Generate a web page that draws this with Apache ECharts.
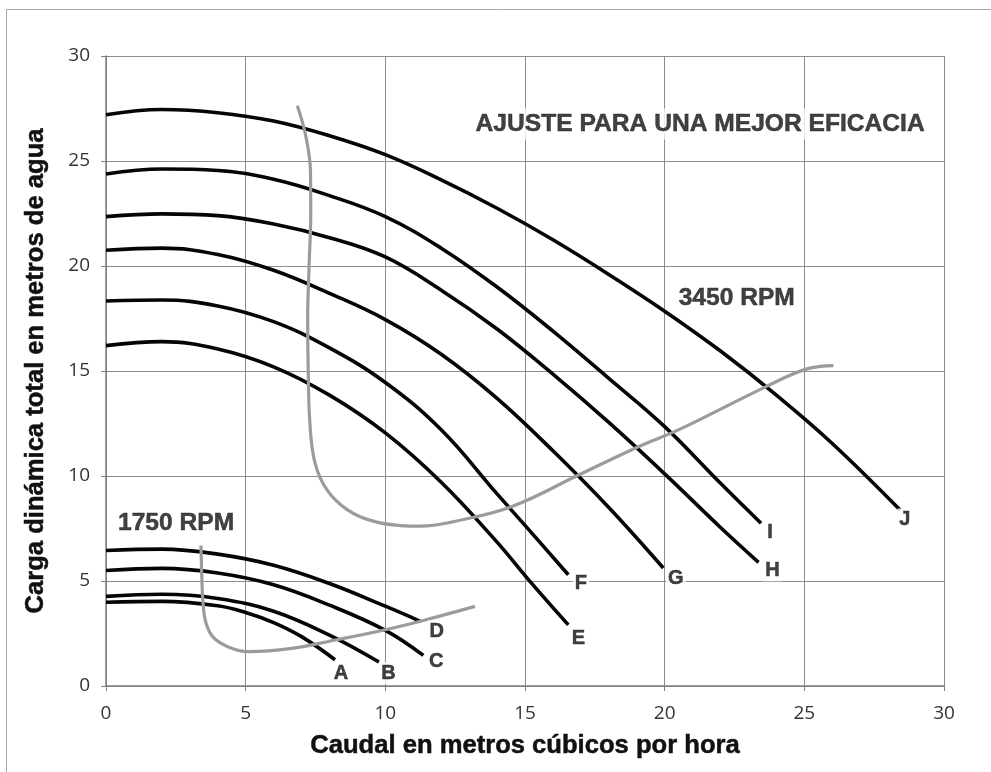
<!DOCTYPE html>
<html>
<head>
<meta charset="utf-8">
<script src="https://cdn.jsdelivr.net/npm/echarts@6/dist/echarts.min.js"></script>
<style>
html,body{margin:0;padding:0;background:#fff;}
#chart{width:991px;height:772px;}
</style>
</head>
<body>
<div id="chart"></div>
<script>
// ---- data (flow m3/h, head m) ----
const xTickValues = [0, 5, 10, 15, 20, 25, 30];
const yTickValues = [0, 5, 10, 15, 20, 25, 30];

// 3450 RPM curves
const curveJ = [[0,27.2],[2,27.45],[4,27.3],[6,26.9],[8,26.2],[10,25.3],[12,24.1],[14,22.75],[16,21.25],[18,19.6],[20,17.85],[22,15.95],[24,13.85],[26,11.55],[28.43,8.38]];
const curveI = [[0,24.38],[2,24.62],[4,24.55],[6,24.13],[8,23.35],[10,22.35],[12,20.85],[14,19.0],[16,16.9],[18,14.65],[20,12.35],[22,9.65],[23.45,7.75]];
const curveH = [[0,22.35],[2,22.48],[4,22.4],[6,22.0],[8,21.35],[10,20.43],[12,18.85],[14,17.0],[16,14.85],[18,12.55],[20,10.1],[22,7.55],[23.36,5.89]];
const curveG = [[0,20.75],[2,20.85],[4,20.55],[6,19.8],[8,18.7],[10,17.45],[12,15.8],[14,13.7],[16,11.2],[18,8.5],[19.95,5.62]];
const curveF = [[0,18.33],[2,18.38],[4,18.1],[6,17.35],[8,16.1],[10,14.45],[12,12.2],[14,9.15],[15,7.65],[16.55,5.3]];
const curveE = [[0,16.21],[2,16.4],[4,16.05],[6,15.2],[8,13.85],[10,12.05],[12,9.7],[14,6.85],[15.1,5.1],[16.55,2.91]];

// 1750 RPM curves
const curveD = [[0,6.45],[2,6.52],[4,6.28],[6,5.75],[8,4.88],[10,3.8],[11.27,3.07]];
const curveC = [[0,5.5],[2,5.6],[4,5.38],[6,4.82],[8,3.85],[10,2.65],[11.36,1.46]];
const curveB = [[0,4.27],[2,4.37],[4,4.17],[6,3.56],[8,2.42],[9.77,1.14]];
const curveA = [[0,3.99],[2,4.03],[4,3.82],[5,3.5],[6,3.02],[7,2.35],[8.2,1.25]];

// best-efficiency boundaries (grey)
const effHigh = [[6.85,27.63],[7.15,26.2],[7.32,24.5],[7.33,22.5],[7.27,20],[7.22,17.5],[7.24,15],[7.3,12.5],[7.48,10.64],[7.9,9.36],[8.62,8.41],[9.57,7.85],[10.53,7.64],[11.24,7.61],[12.8,7.93],[14.58,8.57],[16.97,10.08],[19.0,11.36],[20.55,12.23],[23.65,14.27],[25.09,15.1],[26.04,15.26]];
const effLow = [[3.4,6.69],[3.43,5.2],[3.47,4.0],[3.58,3.0],[3.85,2.3],[4.4,1.85],[5.1,1.64],[6.59,1.78],[8.26,2.2],[10,2.68],[11.36,3.12],[13.21,3.79]];

// curve letters [x, y, text]
const curveLabels = [[28.6,7.93,'J'],[23.77,7.3,'I'],[23.86,5.51,'H'],[20.4,5.1,'G'],[17.0,4.9,'F'],[16.91,2.28,'E'],[11.84,2.6,'D'],[11.82,1.16,'C'],[10.11,0.61,'B'],[8.41,0.61,'A']];
// annotations [x, y, text]
const notes = [[21.27,26.76,'AJUSTE PARA UNA MEJOR EFICACIA'],[22.58,18.48,'3450 RPM'],[2.51,7.77,'1750 RPM']];

const xTitle = 'Caudal en metros cúbicos por hora';
const yTitle = 'Carga dinámica total en metros de agua';

// ---- chart ----
const chart = echarts.init(document.getElementById('chart'), null, {renderer:'canvas'});
const blackCurves = [curveJ, curveI, curveH, curveG, curveF, curveE, curveD, curveC, curveB, curveA];
const series = [];
blackCurves.forEach(function(c){
  series.push({type:'line', data:c, smooth:0.4, showSymbol:false, silent:true,
    lineStyle:{color:'#050505', width:3.6}, z:3});
});
[effHigh, effLow].forEach(function(c){
  series.push({type:'line', data:c, smooth:0.4, showSymbol:false, silent:true,
    lineStyle:{color:'#9b9b9d', width:3.2}, z:4});
});
const boldText = {fontFamily:'Liberation Sans, Arial, sans-serif', fontWeight:'bold', color:'#111',
  textBorderColor:'#111', textBorderWidth:0.5};
series.push({type:'scatter', data:curveLabels, symbolSize:0, silent:true, z:6,
  label:Object.assign({show:true, position:'inside', formatter:function(p){return p.data[2];},
    fontSize:20, backgroundColor:'#fff', padding:[1,2]}, boldText)});
series.push({type:'scatter', data:notes, symbolSize:0, silent:true, z:6,
  label:Object.assign({show:true, position:'inside', formatter:function(p){return p.data[2];},
    fontSize:24.6, backgroundColor:'#fff', padding:[3,4]}, boldText)});

const axisCommon = {
  min:0, max:30, interval:5,
  axisLine:{show:true, lineStyle:{color:'#7f7f7f', width:1.5}},
  axisTick:{show:true, length:5, lineStyle:{color:'#7f7f7f'}},
  splitLine:{show:true, lineStyle:{color:'#8c8c8c', width:1}},
  axisLabel:{fontFamily:'Open Sans, sans-serif', fontSize:19, color:'#333'},
  nameTextStyle:Object.assign({fontSize:25.6}, boldText)
};

chart.setOption({
  animation:false,
  backgroundColor:'#fff',
  grid:{left:106, right:47, top:56, bottom:86, containLabel:false},
  xAxis:Object.assign({}, axisCommon, {type:'value', name:xTitle, nameLocation:'middle', nameGap:47,
    axisLabel:Object.assign({}, axisCommon.axisLabel, {margin:18, formatter:function(v){return xTickValues.indexOf(v)>=0?String(v):'';}})}),
  yAxis:Object.assign({}, axisCommon, {type:'value', name:yTitle, nameLocation:'middle', nameRotate:90, nameGap:57,
    axisLabel:Object.assign({}, axisCommon.axisLabel, {margin:16, formatter:function(v){return yTickValues.indexOf(v)>=0?String(v):'';}})}),
  graphic:[{type:'rect', shape:{x:6.5, y:9.5, width:1000, height:800}, style:{fill:null, stroke:'#a6a6a6', lineWidth:1}, z:-1, silent:true}],
  series:series
});
</script>
</body>
</html>
